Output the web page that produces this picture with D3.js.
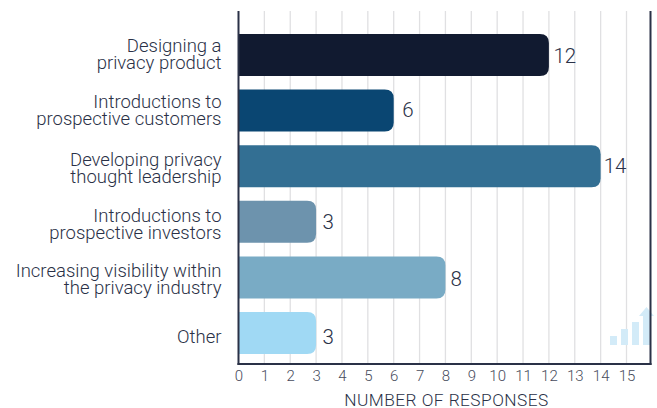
<!DOCTYPE html>
<html>
<head>
<meta charset="utf-8">
<script src="https://cdn.jsdelivr.net/npm/d3@7/dist/d3.min.js"></script>
<style>
  html, body { margin: 0; padding: 0; background: #fff; }
  svg { display: block; font-family: Roboto, sans-serif; font-weight: 300; }
</style>
</head>
<body>
<svg id="chart" width="657" height="408"></svg>
<script>
const categories = [
  ["Designing a", "privacy product"],
  ["Introductions to", "prospective customers"],
  ["Developing privacy", "thought leadership"],
  ["Introductions to", "prospective investors"],
  ["Increasing visibility within", "the privacy industry"],
  ["Other"]
];
const responses = [12, 6, 14, 3, 8, 3];
const barColors = ["#111a30", "#0a4672", "#336f93", "#6d93ad", "#79abc5", "#a0d9f4"];
const xTicks = d3.range(0, 16);
const axisTitle = "NUMBER OF RESPONSES";
const iconHeights = [9, 16, 23, 32];

// Hand-placed label adjustments per row, in pixels
const labelShiftY = [-3, -3, 0, 0, 0, 3.5];
const valueShiftX = [4.5, 8.5, 3, 6.5, 5, 6.5];
const valueShiftY = [1, -1, 0, 0, 1, 4];

const ink = "#2a3147";
const svg = d3.select("#chart");

const plotLeft = 238.5, plotRight = 650.5, plotTop = 11, plotBottom = 364;
const x = d3.scaleLinear().domain([0, 15]).range([plotLeft, 626.5]);
const y = d3.scaleBand()
  .domain(d3.range(categories.length))
  .range([27.2, 360.8])
  .paddingInner(0.245)
  .paddingOuter(0.122);

// Vertical gridlines behind the bars
svg.append("g").selectAll("line")
  .data(xTicks.slice(1))
  .join("line")
  .attr("x1", d => x(d)).attr("x2", d => x(d))
  .attr("y1", plotTop).attr("y2", plotBottom)
  .attr("stroke", "#e0e0e2").attr("stroke-width", 1.3);

// Rising-bars watermark in the lower right corner
const icon = svg.append("g").attr("fill", "#d3ebf8");
const iconX = d3.scaleBand().domain(d3.range(iconHeights.length)).range([610, 650]).paddingInner(0.364);
iconHeights.forEach((h, i) => {
  icon.append("rect")
    .attr("x", iconX(i)).attr("width", iconX.bandwidth())
    .attr("y", 345 - h).attr("height", h);
});
icon.append("path")
  .attr("d", d3.line()([[639, 316], [646.5, 307], [654, 316]]));

// Horizontal bars, square at the axis and rounded at the value end
const barPath = (x0, x1, y0, h, r) =>
  `M${x0},${y0}H${x1 - r}Q${x1},${y0} ${x1},${y0 + r}V${y0 + h - r}Q${x1},${y0 + h} ${x1 - r},${y0 + h}H${x0}Z`;

svg.append("g").selectAll("path")
  .data(responses)
  .join("path")
  .attr("d", (d, i) => barPath(x(0), x(d), y(i), y.bandwidth(), 9))
  .attr("fill", (d, i) => barColors[i]);

// Value labels at the end of each bar
svg.append("g").selectAll("text")
  .data(responses)
  .join("text")
  .attr("x", (d, i) => x(d) + valueShiftX[i])
  .attr("y", (d, i) => y(i) + y.bandwidth() / 2 + 7.3 + valueShiftY[i])
  .attr("font-size", 20.5)
  .attr("fill", ink)
  .text(d => d);

// Category labels, right aligned against the axis
const catGroup = svg.append("g").attr("text-anchor", "end")
  .attr("font-size", 18.5).attr("fill", ink);
categories.forEach((lines, i) => {
  const cy = y(i) + y.bandwidth() / 2 + labelShiftY[i];
  const lineHeight = 17;
  lines.forEach((line, j) => {
    catGroup.append("text")
      .attr("x", 221.5)
      .attr("y", cy + (lines.length === 1 ? 6.5 : j * lineHeight))
      .text(line);
  });
});

// Frame lines in dark ink
const frame = svg.append("g").attr("stroke", ink).attr("fill", "none").attr("stroke-width", 2);
frame.append("line").attr("x1", plotLeft).attr("x2", plotLeft).attr("y1", plotTop).attr("y2", plotBottom + 1);
frame.append("line").attr("x1", plotLeft - 1).attr("x2", plotRight + 1).attr("y1", plotBottom).attr("y2", plotBottom);
frame.append("line").attr("x1", plotRight).attr("x2", plotRight).attr("y1", plotTop).attr("y2", plotBottom + 1);

// Bottom axis tick labels from the scale
const xAxis = d3.axisBottom(x).tickValues(xTicks).tickSize(0).tickPadding(6);
const axisG = svg.append("g").attr("transform", `translate(0,${plotBottom})`).call(xAxis);
axisG.select(".domain").remove();
axisG.selectAll("text")
  .attr("font-family", "Roboto, sans-serif")
  .attr("font-weight", 300)
  .attr("font-size", 15)
  .attr("fill", "#474c5c");

svg.append("text")
  .attr("x", 446.5).attr("y", 406)
  .attr("text-anchor", "middle")
  .attr("font-size", 17.3)
  .attr("letter-spacing", 0.45)
  .attr("fill", ink)
  .text(axisTitle);
</script>
</body>
</html>
